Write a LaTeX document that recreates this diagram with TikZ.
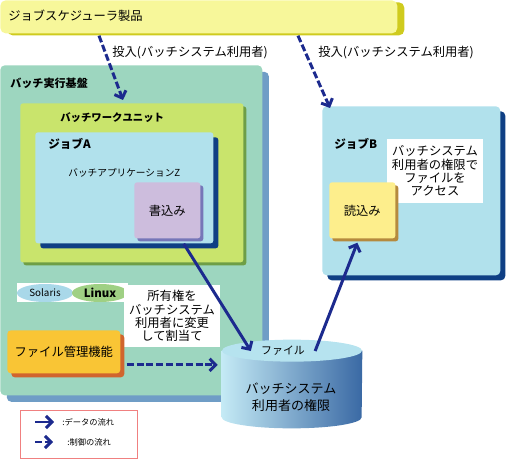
\documentclass[tikz,border=0pt]{standalone}
\usepackage{fontspec}
\setmainfont{Noto Sans CJK JP}
\usetikzlibrary{arrows.meta, shapes.geometric, shadows, calc, positioning}
\definecolor{bannerfill}{HTML}{F7F79A}
\definecolor{bannershadow}{HTML}{CFCB1E}
\definecolor{basefill}{HTML}{9DD6BF}
\definecolor{baseshadow}{HTML}{6F9DC6}
\definecolor{unitfill}{HTML}{C9E46C}
\definecolor{unitshadow}{HTML}{6E9E46}
\definecolor{jobfill}{HTML}{B1E1EC}
\definecolor{jobshadow}{HTML}{0F3F84}
\definecolor{writefill}{HTML}{CDBDDD}
\definecolor{writeshadow}{HTML}{7676B8}
\definecolor{readfill}{HTML}{FDEE8C}
\definecolor{readshadow}{HTML}{B58A3E}
\definecolor{fmfill}{HTML}{F9C535}
\definecolor{fmshadow}{HTML}{D0652E}
\definecolor{solfill}{HTML}{A9D8E9}
\definecolor{linfill}{HTML}{9FD084}
\definecolor{flowblue}{HTML}{1C2A8E}
\definecolor{cylleft}{HTML}{C4EAF5}
\definecolor{cylright}{HTML}{3A69A4}
\definecolor{captop}{HTML}{B6E3EF}
\definecolor{legred}{HTML}{F08080}
\tikzset{
  box/.style={anchor=north west, inner sep=0pt, rounded corners=1.5pt},
  shadowed/.style 2 args={general shadow={fill=#1, shadow xshift=#2, shadow yshift=-#2}},
  boxtitle/.style={anchor=west, inner sep=0pt, font=\fontsize{6.3}{7}\selectfont\bfseries},
  boxtext/.style={inner sep=0pt, font=\fontsize{7}{8}\selectfont},
  notebox/.style={fill=white, inner sep=0pt, align=center, font=\fontsize{7}{7.6}\selectfont},
  dataflow/.style={-{Straight Barb[length=3.4pt,width=7pt]}, line width=1.7pt, flowblue},
  ctrlflow/.style={dataflow, dash pattern=on 4pt off 1.6pt},
}

\begin{document}
\begin{tikzpicture}[x=0.02cm, y=-0.02cm]
  \useasboundingbox (0,0) rectangle (507,459);

  % job scheduler product
  \node[box, fill=bannerfill, general shadow={fill=bannershadow, shadow xshift=0.14cm, shadow yshift=-0.04cm},
        minimum width=7.94cm, minimum height=0.66cm, rounded corners=3pt] (sched) at (0,0) {};
  \node[boxtext, anchor=west] (schedlbl) at (8,16) {ジョブスケジューラ製品};

  % batch execution platform
  \node[box, fill=basefill, shadowed={baseshadow}{0.13cm}, minimum width=5.24cm, minimum height=6.6cm, rounded corners=2.5pt] (base) at (0,65) {};
  \node[boxtitle] (baselbl) at (10,83) {バッチ実行基盤};

  \node[box, fill=unitfill, shadowed={unitshadow}{0.06cm}, minimum width=4.46cm, minimum height=3.18cm] (unit) at (20,103) {};
  \node[boxtitle, font=\fontsize{5.9}{7}\selectfont\bfseries] (unitlbl) at (60,118) {バッチワークユニット};

  \node[box, fill=jobfill, shadowed={jobshadow}{0.1cm}, minimum width=3.56cm, minimum height=2.22cm] (joba) at (35,132) {};
  \node[boxtitle, font=\fontsize{6.6}{7}\selectfont\bfseries] (jobalbl) at (48,144) {ジョブA};
  \node[boxtext, anchor=west, font=\fontsize{5.5}{6}\selectfont] (app) at (68,173) {バッチアプリケーションZ};

  \node[box, fill=writefill, shadowed={writeshadow}{0.06cm}, minimum width=1.32cm, minimum height=1.12cm] (write) at (134,182) {};
  \node[boxtext] (writelbl) at (write.center) {書込み};

  % job B
  \node[box, fill=jobfill, shadowed={jobshadow}{0.1cm}, minimum width=3.56cm, minimum height=3.38cm, rounded corners=2.5pt] (jobb) at (322,106) {};
  \node[boxtitle, font=\fontsize{6.6}{7}\selectfont\bfseries] (jobblbl) at (334,144) {ジョブB};
  \node[notebox, minimum width=1.94cm, minimum height=1.28cm] (accessnote) at (435,171) {バッチシステム\\利用者の権限で\\ファイルを\\アクセス};

  \node[box, fill=readfill, shadowed={readshadow}{0.06cm}, minimum width=1.32cm, minimum height=1.12cm] (read) at (329,182) {};
  \node[boxtext] (readlbl) at (read.center) {読込み};

  % OS
  \node[box, fill=white, rounded corners=0pt, minimum width=2.22cm, minimum height=0.38cm] (osbar) at (17,283) {};
  \node[ellipse, fill=solfill, inner sep=0pt, minimum width=1.12cm, minimum height=0.36cm, font=\fontsize{5.6}{6}\selectfont] (solaris) at (45,293) {Solaris};
  \node[ellipse, fill=linfill, inner sep=0pt, minimum width=1.12cm, minimum height=0.36cm, font=\fontsize{6.5}{7}\selectfont\bfseries] (linux) at (100,293) {Linux};

  \node[notebox, minimum width=1.92cm, minimum height=1.26cm] (ownnote) at (172,316) {所有権を\\バッチシステム\\利用者に変更\\して割当て};

  \node[box, fill=fmfill, shadowed={fmshadow}{0.08cm}, minimum width=2.26cm, minimum height=0.86cm, rounded corners=2pt] (fm) at (7,330) {};
  \node[boxtext] (fmlbl) at (fm.center) {ファイル管理機能};

  % file (cylinder)
  \node[inner sep=0pt, minimum width=2.8cm, minimum height=1.32cm] (cyl) at (292,384) {};
  \shade[left color=cylleft, right color=cylright] (cyl.north west) -- (cyl.south west)
    arc[start angle=180, end angle=360, x radius=1.4cm, y radius=0.22cm] -- (cyl.north east) -- cycle;
  \fill[captop] (cyl.north) ellipse[x radius=1.4cm, y radius=0.22cm];
  \node[boxtext, font=\fontsize{6.2}{7}\selectfont, inner sep=0.2cm] (filelbl) at (283,351) {ファイル};
  \node[boxtext, align=center, font=\fontsize{7.4}{9.6}\selectfont] (permlbl) at (291,397) {バッチシステム\\利用者の権限};

  % flows
  \draw[ctrlflow] ($(sched.south west)+(99,2)$) -- ($(unit.north west)+(103,-3)$);
  \node[boxtext, anchor=west] (submit1) at (112,53) {投入(バッチシステム利用者)};
  \draw[ctrlflow] ($(sched.south west)+(298,2)$) -- ($(jobb.north west)+(8,2)$);
  \node[boxtext, anchor=west] (submit2) at (318,53) {投入(バッチシステム利用者)};

  \draw[dataflow] ([yshift=-0.1cm]write.300) -- (filelbl.west);
  \draw[dataflow] (filelbl.east) -- ([xshift=-0.1cm,yshift=-0.08cm]read.south);
  \draw[ctrlflow] ($(fm.east)+(6,13)$) -- ($(fm.east -| cyl.west)+(-4,13)$);

  % legend
  \node[box, draw=legred, line width=0.7pt, rounded corners=0pt, minimum width=2.34cm, minimum height=0.96cm] (legend) at (20,410) {};
  \coordinate (dataA) at (35,422);
  \coordinate (dataB) at (54,422);
  \coordinate (ctrlA) at (35,442);
  \coordinate (ctrlB) at (53,442);
  \draw[dataflow] (dataA) -- (dataB);
  \draw[ctrlflow] (ctrlA) -- (ctrlB);
  \node[boxtext, anchor=west, font=\fontsize{4.7}{5}\selectfont] (datalbl) at (62,422) {:データの流れ};
  \node[boxtext, anchor=west, font=\fontsize{4.7}{5}\selectfont] (ctrllbl) at (67,442) {:制御の流れ};
\end{tikzpicture}
\end{document}
